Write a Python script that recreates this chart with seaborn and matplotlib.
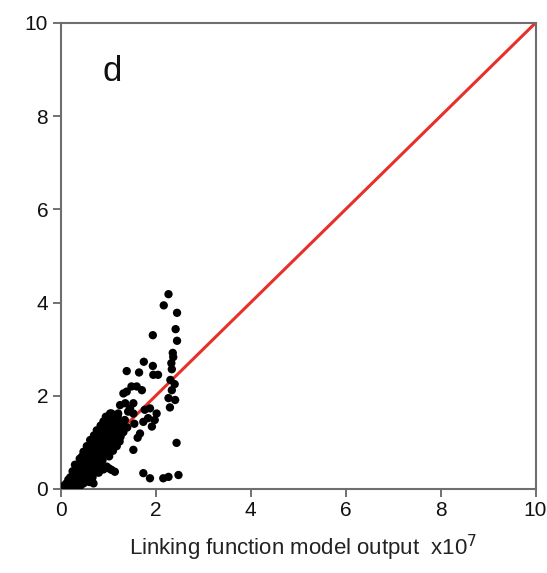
import numpy as np
import pandas as pd
import matplotlib
matplotlib.use("Agg")
import matplotlib.pyplot as plt
import seaborn as sns

x_vals = [
    # sparse upper / outer points
    2.27, 2.17, 2.45, 2.42, 1.94, 2.45, 2.36, 2.37, 1.75, 1.94, 1.39, 1.65, 2.05,
    2.34, 2.31, 2.34, 1.49, 1.60, 1.32, 1.39, 1.71, 1.95, 2.27, 2.41, 1.04, 1.77,
    2.02, 1.92, 1.67, 1.53, 2.44, 1.74, 1.88, 2.16, 2.27, 2.48, 1.07, 1.14, 0.69,
    1.25, 1.36, 1.46, 1.53, 1.88, 1.84, 1.74, 1.07, 1.14, 1.21, 1.04, 1.53, 1.42,
    0.97, 1.00, 1.11, 1.32, 1.35, 1.98, 2.33, 2.40, 2.30, 1.55, 1.62,
    # dense band
    0.05, 0.10, 0.15, 0.20, 0.25, 0.30, 0.35, 0.40, 0.12, 0.18, 0.24, 0.30, 0.36,
    0.42, 0.48, 0.20, 0.27, 0.33, 0.40, 0.47, 0.54, 0.60, 0.25, 0.32, 0.39, 0.46,
    0.53, 0.60, 0.67, 0.35, 0.42, 0.49, 0.56, 0.63, 0.70, 0.77, 0.40, 0.48, 0.55,
    0.62, 0.70, 0.78, 0.85, 0.48, 0.56, 0.64, 0.72, 0.80, 0.88, 0.55, 0.63, 0.71,
    0.79, 0.87, 0.95, 1.02, 0.62, 0.70, 0.78, 0.86, 0.94, 1.02, 1.10, 0.70, 0.78,
    0.86, 0.94, 1.02, 1.10, 1.18, 0.76, 0.84, 0.92, 1.00, 1.08, 1.16, 1.24, 0.84,
    0.92, 1.00, 1.08, 1.16, 1.26, 0.90, 0.98, 1.06, 1.14, 1.22, 1.32, 0.95, 1.03,
    1.12, 1.20, 1.30, 1.40, 0.08, 0.22, 0.38, 0.52, 0.66, 0.30, 0.45, 0.58,
    0.72, 0.86, 1.00, 1.12, 1.20, 0.80, 0.90,
    0.16, 0.28, 0.44, 0.36, 0.50, 0.43, 0.57, 0.52, 0.66, 0.59, 0.74, 0.67, 0.82,
    0.75, 0.90, 0.83, 0.97, 0.97, 1.02,
]
y_vals = [
    4.18, 3.94, 3.78, 3.43, 3.30, 3.18, 2.92, 2.83, 2.73, 2.64, 2.53, 2.50, 2.45,
    2.57, 2.34, 2.12, 2.20, 2.20, 2.05, 2.09, 2.12, 2.45, 1.95, 1.91, 1.62, 1.70,
    1.62, 1.34, 1.19, 0.84, 0.99, 0.34, 0.23, 0.23, 0.26, 0.30, 0.41, 0.37, 0.12,
    1.80, 1.84, 1.73, 1.84, 1.73, 1.52, 1.44, 1.62, 1.48, 1.62, 1.48, 1.62, 1.66,
    1.41, 1.30, 1.34, 1.34, 1.48, 1.48, 2.70, 2.25, 1.75, 1.40, 1.10,
    0.02, 0.05, 0.03, 0.02, 0.06, 0.04, 0.03, 0.05, 0.12, 0.15, 0.10, 0.14, 0.11,
    0.08, 0.12, 0.25, 0.28, 0.22, 0.26, 0.20, 0.18, 0.15, 0.38, 0.40, 0.35, 0.33,
    0.30, 0.28, 0.25, 0.52, 0.55, 0.48, 0.45, 0.42, 0.40, 0.36, 0.65, 0.68, 0.62,
    0.58, 0.55, 0.50, 0.46, 0.80, 0.78, 0.74, 0.70, 0.66, 0.62, 0.92, 0.90, 0.85,
    0.82, 0.78, 0.74, 0.70, 1.05, 1.02, 0.98, 0.94, 0.90, 0.86, 0.82, 1.15, 1.12,
    1.08, 1.04, 1.00, 0.96, 0.92, 1.26, 1.22, 1.18, 1.14, 1.10, 1.06, 1.02, 1.36,
    1.32, 1.28, 1.24, 1.18, 1.12, 1.45, 1.42, 1.38, 1.34, 1.28, 1.22, 1.55, 1.52,
    1.48, 1.44, 1.38, 1.32, 0.08, 0.20, 0.30, 0.45, 0.60, 0.52, 0.70, 0.85,
    1.00, 1.15, 1.28, 1.40, 1.55, 0.35, 0.42,
    0.20, 0.32, 0.20, 0.45, 0.32, 0.60, 0.48, 0.74, 0.60, 0.88, 0.76, 1.00, 0.88,
    1.12, 1.00, 1.25, 1.14, 0.48, 0.44,
]

line_x = [0, 10]
line_y = [0, 10]

x_ticks = [0, 2, 4, 6, 8, 10]
y_ticks = [0, 2, 4, 6, 8, 10]

df = pd.DataFrame({"x": x_vals, "y": y_vals})
line_df = pd.DataFrame({"x": line_x, "y": line_y})

sns.set_theme(style="white")
plt.rcParams["font.family"] = ["Liberation Sans", "DejaVu Sans"]

fig = plt.figure(figsize=(5.47, 5.73), dpi=100)
ax = fig.add_axes([0.111, 0.1466, 0.868, 0.8134])

sns.lineplot(data=line_df, x="x", y="y", ax=ax, color="#e8302a", linewidth=2.2, zorder=2)
sns.scatterplot(data=df, x="x", y="y", ax=ax, color="black", s=36, edgecolor="none",
                linewidth=0, zorder=3)

ax.set_xlim(0, 10)
ax.set_ylim(0, 10)
ax.set_xticks(x_ticks)
ax.set_yticks(y_ticks)
ax.set_xticklabels([str(t) for t in x_ticks])
ax.set_yticklabels([str(t) for t in y_ticks])
ax.tick_params(axis="both", direction="out", length=6, width=1.3, color="#666666",
               labelsize=15, labelcolor="#111111", bottom=True, left=True, pad=3)
for sp in ax.spines.values():
    sp.set_color("#6e6e6e")
    sp.set_linewidth(1.5)
    sp.set_visible(True)

ax.set_xlabel("Linking function model output  x10$^7$", fontsize=16, color="#222222")
ax.xaxis.set_label_coords(0.51, -0.095)
ax.set_ylabel("")
ax.text(0.88, 8.95, "d", fontsize=25, color="#111111", ha="left", va="center")

fig.savefig("out.png", dpi=100)
